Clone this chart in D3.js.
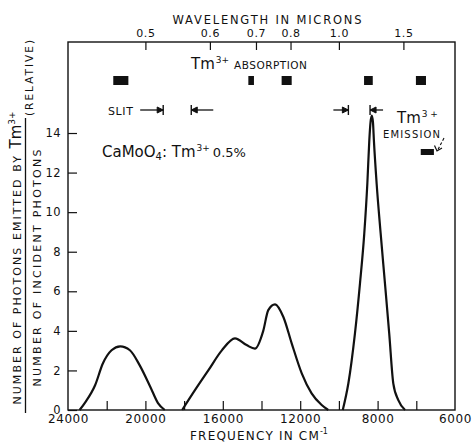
<!DOCTYPE html>
<html>
<head>
<meta charset="utf-8">
<script src="https://cdn.jsdelivr.net/npm/d3@7"></script>
<style>
body { margin: 0; background: #fff; }
svg { font-family: 'DejaVu Sans', sans-serif; fill: #111; }
.axis path { display: none; }
.axis line { stroke: #111; stroke-width: 1.2; }
.axis text { font-family: 'DejaVu Sans', sans-serif; fill: #111; }
</style>
</head>
<body>
<svg id="chart" width="472" height="445"></svg>
<script>
// spectrum, [frequency cm-1, relative photons]
var band1 = [[23400,0],[23100,0.4],[22600,1.25],[22200,2.35],[21750,3.02],[21300,3.22],[20800,3.02],[20300,2.27],[19750,1.18],[19350,0.35],[19000,0]];
var band2 = [[18100,0],[17440,1.0],[16750,2.0],[16060,3.0],[15370,3.62],[14770,3.28],[14340,3.1],[13910,4.0],[13650,5.05],[13300,5.34],[12870,4.7],[12440,3.37],[11920,1.85],[11410,0.84],[10890,0.25],[10550,0]];
var band3 = [[9800,0],[9510,1.35],[9170,3.87],[8910,6.4],[8690,8.9],[8530,11.45],[8430,13.6],[8365,14.55],[8300,14.88],[8240,14.55],[8190,13.6],[8050,11.45],[7840,8.9],[7620,6.4],[7400,3.87],[7190,1.35],[6930,0.5],[6580,0]];

var absorption = [[21660,20880],[14680,14390],[12960,12440],[8700,8250],[6020,5500]];
var emission = [5770, 5090];
var slitLeft = [19080, 17630];
var slitRight = [9510, 8390];

var wavelengths = [0.5, 0.6, 0.7, 0.8, 1.0, 1.5];
var freqTicks = [22000, 20000, 18000, 16000, 14000, 12000, 10000, 8000, 6000];
var freqLabelValues = [24000, 20000, 16000, 12000, 8000, 4000];
var freqLabels = ['24000', '20000', '16000', '12000', '8000', '6000'];
var yTicks = [0, 2, 4, 6, 8, 10, 12, 14];

var svg = d3.select('#chart');
var pLeft = 68, pRight = 455, pTop = 42, pBottom = 410;

var x = d3.scaleLinear().domain([24000, 4000]).range([pLeft, pRight]);
var y = d3.scaleLinear().domain([0, 18.6]).range([pBottom, pTop]);

// frame
svg.append('rect')
    .attr('x', pLeft).attr('y', pTop)
    .attr('width', pRight - pLeft).attr('height', pBottom - pTop)
    .attr('fill', 'none').attr('stroke', '#111').attr('stroke-width', 1.4);

// bottom ticks (inward) and labels
svg.append('g').attr('class', 'axis')
    .attr('transform', 'translate(0,' + pBottom + ')')
    .call(d3.axisBottom(x).tickValues(freqTicks).tickSize(-9).tickFormat(''));
svg.append('g').attr('class', 'axis')
    .attr('transform', 'translate(0,' + pBottom + ')')
    .call(d3.axisBottom(x).tickValues(freqLabelValues).tickSize(0).tickPadding(4.5)
        .tickFormat(function(d, i) { return freqLabels[i]; }))
    .selectAll('text').attr('font-size', 12).attr('letter-spacing', 0.6);

// top wavelength axis
var fmt = d3.format('.1f');
svg.append('g').attr('class', 'axis')
    .attr('transform', 'translate(0,' + pTop + ')')
    .call(d3.axisTop(x).tickValues(wavelengths.map(function(w) { return 1e4 / w; }))
        .tickSize(-8).tickPadding(5)
        .tickFormat(function(f) { return fmt(1e4 / f); }))
    .selectAll('text').attr('font-size', 11).attr('letter-spacing', 0.6);

// left axis
svg.append('g').attr('class', 'axis')
    .attr('transform', 'translate(' + pLeft + ',0)')
    .call(d3.axisLeft(y).tickValues(yTicks).tickSize(-9).tickPadding(7))
    .selectAll('text').attr('font-size', 11.5).attr('letter-spacing', 0.4);

// curve
var line = d3.line()
    .x(function(d) { return x(d[0]); })
    .y(function(d) { return y(d[1]); })
    .curve(d3.curveMonotoneX);

svg.selectAll('.band')
    .data([band1, band2, band3])
    .enter().append('path')
    .attr('class', 'band')
    .attr('d', line)
    .attr('fill', 'none')
    .attr('stroke', '#111')
    .attr('stroke-width', 2.2)
    .attr('stroke-linejoin', 'round');

// absorption markers
svg.selectAll('.abs')
    .data(absorption)
    .enter().append('rect')
    .attr('class', 'abs')
    .attr('x', function(d) { return x(d[0]); })
    .attr('width', function(d) { return x(d[1]) - x(d[0]); })
    .attr('y', 76).attr('height', 9)
    .attr('fill', '#111');

svg.append('rect')
    .attr('x', x(emission[0])).attr('width', x(emission[1]) - x(emission[0]))
    .attr('y', 149).attr('height', 6)
    .attr('fill', '#111');

// slit width markers
var slitY = 110;
var arrow = function(tip, tail, yy) {
    var dir = tip > tail ? -1 : 1;
    svg.append('line')
        .attr('x1', tip).attr('x2', tip).attr('y1', yy - 5).attr('y2', yy + 5)
        .attr('stroke', '#111').attr('stroke-width', 1.4);
    svg.append('line')
        .attr('x1', tail).attr('x2', tip).attr('y1', yy).attr('y2', yy)
        .attr('stroke', '#111').attr('stroke-width', 1.3);
    svg.append('path')
        .attr('d', 'M' + (tip + dir * 6) + ',' + (yy - 3) + 'L' + tip + ',' + yy + 'L' + (tip + dir * 6) + ',' + (yy + 3) + 'Z')
        .attr('fill', '#111').attr('stroke', '#111').attr('stroke-width', 1);
};
arrow(x(slitLeft[0]), x(slitLeft[0]) - 23, slitY);
arrow(x(slitLeft[1]), x(slitLeft[1]) + 22, slitY);
arrow(x(slitRight[0]), x(slitRight[0]) - 15, slitY);
arrow(x(slitRight[1]), x(slitRight[1]) + 13, slitY);

svg.append('text').attr('x', 108).attr('y', 114.5)
    .attr('font-size', 11).attr('letter-spacing', 0.6).text('SLIT');

// titles
svg.append('text').attr('x', 267).attr('y', 23.5)
    .attr('text-anchor', 'middle').attr('font-size', 11.5)
    .attr('textLength', 189).attr('lengthAdjust', 'spacing')
    .text('WAVELENGTH IN MICRONS');

var absText = svg.append('text').attr('x', 191).attr('y', 68.5);
absText.append('tspan').attr('font-size', 15).text('Tm');
absText.append('tspan').attr('font-size', 9).attr('dy', -6).attr('dx', 1).text('3+');
absText.append('tspan').attr('font-size', 10.5).attr('dy', 6).attr('dx', 5)
    .attr('letter-spacing', 0.5).text('ABSORPTION');

var emText = svg.append('text').attr('x', 397).attr('y', 123);
emText.append('tspan').attr('font-size', 15).text('Tm');
emText.append('tspan').attr('font-size', 9).attr('dy', -6).attr('dx', 1).text('3 +');

svg.append('text').attr('x', 383).attr('y', 137.5)
    .attr('font-size', 10).attr('textLength', 57).attr('lengthAdjust', 'spacing')
    .text('EMISSION');

svg.append('line')
    .attr('x1', 444).attr('y1', 138).attr('x2', 437.5).attr('y2', 150.5)
    .attr('stroke', '#111').attr('stroke-width', 1.1).attr('stroke-dasharray', '3,2');
svg.append('path')
    .attr('d', 'M434.5,145.5L437,151L442,148')
    .attr('fill', 'none').attr('stroke', '#111').attr('stroke-width', 1.2);

var sample = svg.append('text').attr('x', 102).attr('y', 156.5).attr('font-size', 15);
sample.append('tspan').text('CaMoO');
sample.append('tspan').attr('font-size', 10).attr('dy', 3).text('4');
sample.append('tspan').attr('dy', -3).text(': Tm');
sample.append('tspan').attr('font-size', 9).attr('dy', -6).attr('dx', 1).text('3+');
sample.append('tspan').attr('font-size', 13).attr('dy', 6).attr('dx', 3).text('0.5%');

var xl = svg.append('text').attr('x', 190).attr('y', pBottom + 29.5)
    .attr('font-size', 12).attr('letter-spacing', 1.2);
xl.append('tspan').text('FREQUENCY IN CM');
xl.append('tspan').attr('font-size', 8).attr('dy', -6).attr('letter-spacing', 0).text('-1');

// y label, rotated
var yl1 = svg.append('text')
    .attr('transform', 'translate(20.5,258) rotate(-90)')
    .attr('text-anchor', 'middle').attr('font-size', 11);
yl1.append('tspan').attr('letter-spacing', 2.05).text('NUMBER OF PHOTONS EMITTED BY ');
yl1.append('tspan').attr('font-size', 15).text('Tm');
yl1.append('tspan').attr('font-size', 9).attr('dy', -6).text('3+');

svg.append('line')
    .attr('x1', 25.5).attr('x2', 25.5).attr('y1', 118).attr('y2', 413)
    .attr('stroke', '#111').attr('stroke-width', 1.3);

svg.append('text')
    .attr('transform', 'translate(40.5,268) rotate(-90)')
    .attr('text-anchor', 'middle').attr('font-size', 11)
    .attr('textLength', 237).attr('lengthAdjust', 'spacing')
    .text('NUMBER OF INCIDENT PHOTONS');

svg.append('text')
    .attr('transform', 'translate(33,78) rotate(-90)')
    .attr('text-anchor', 'middle').attr('font-size', 10.5)
    .attr('textLength', 76).attr('lengthAdjust', 'spacing')
    .text('(RELATIVE)');
</script>
</body>
</html>
